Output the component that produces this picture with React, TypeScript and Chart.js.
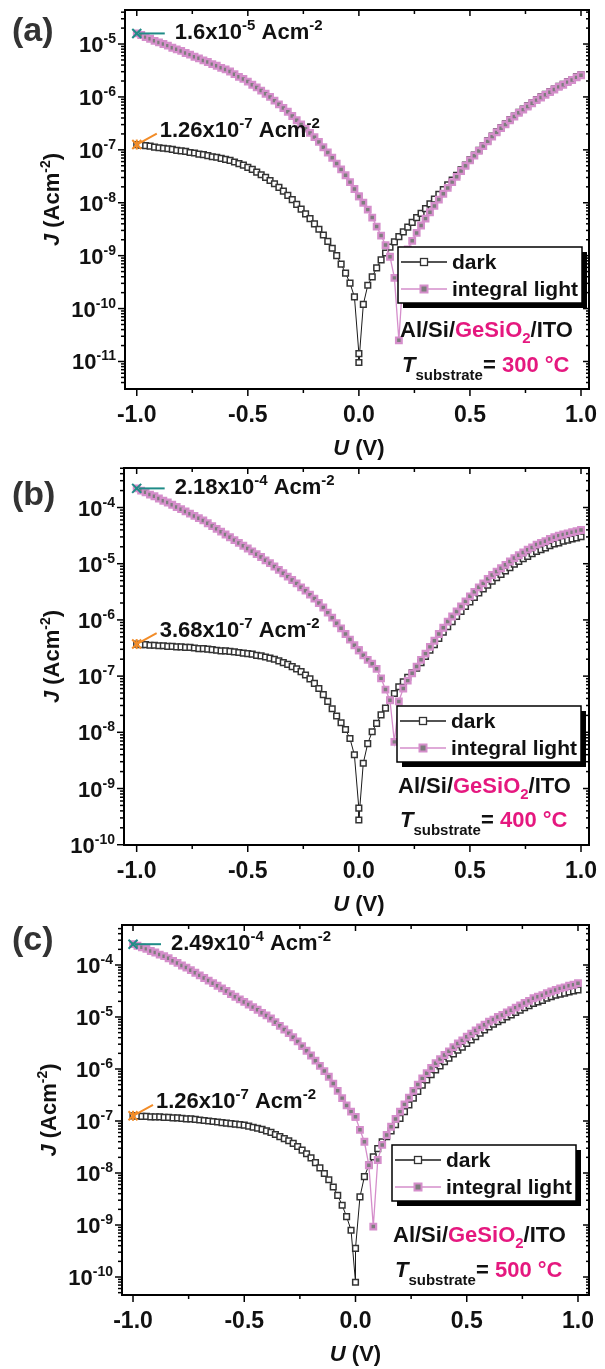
import React, { useEffect, useRef } from "react";
import { Chart, registerables } from "chart.js";
Chart.register(...registerables);

const W = 605;
const H = 1369;
const FONT = '"Liberation Sans", Arial, Helvetica, sans-serif';

// Bias voltage U (V); the sweep contains 0 V twice
const U = [-1,-0.98,-0.96,-0.94,-0.92,-0.9,-0.88,-0.86,-0.84,-0.82,-0.8,-0.78,-0.76,-0.74,-0.72,-0.7,-0.68,-0.66,-0.64,-0.62,-0.6,-0.58,-0.56,-0.54,-0.52,-0.5,-0.48,-0.46,-0.44,-0.42,-0.4,-0.38,-0.36,-0.34,-0.32,-0.3,-0.28,-0.26,-0.24,-0.22,-0.2,-0.18,-0.16,-0.14,-0.12,-0.1,-0.08,-0.06,-0.04,-0.02,0,0,0.02,0.04,0.06,0.08,0.1,0.12,0.14,0.16,0.18,0.2,0.22,0.24,0.26,0.28,0.3,0.32,0.34,0.36,0.38,0.4,0.42,0.44,0.46,0.48,0.5,0.52,0.54,0.56,0.58,0.6,0.62,0.64,0.66,0.68,0.7,0.72,0.74,0.76,0.78,0.8,0.82,0.84,0.86,0.88,0.9,0.92,0.94,0.96,0.98,1];

// log10 of J (A cm^-2)
const lightA = [
  -4.80,-4.83,-4.87,-4.90,-4.94,-4.97,-5.00,-5.03,-5.07,-5.10,
  -5.13,-5.17,-5.20,-5.24,-5.27,-5.31,-5.34,-5.38,-5.41,-5.45,
  -5.48,-5.52,-5.57,-5.62,-5.66,-5.71,-5.77,-5.82,-5.88,-5.94,
  -6.00,-6.07,-6.14,-6.21,-6.28,-6.36,-6.44,-6.52,-6.60,-6.68,
  -6.76,-6.85,-6.95,-7.05,-7.15,-7.26,-7.37,-7.48,-7.61,-7.74,
  -7.88,-7.88,
  -8.00,-8.13,-8.28,-8.45,-8.62,-8.80,-9.02,-9.42,-10.60,-9.30,
  -8.88,-8.72,-8.57,-8.43,-8.30,-8.18,-8.06,-7.94,-7.83,-7.72,
  -7.61,-7.51,-7.40,-7.30,-7.20,-7.11,-7.02,-6.93,-6.84,-6.75,
  -6.67,-6.59,-6.52,-6.44,-6.37,-6.30,-6.24,-6.18,-6.12,-6.06,
  -6.01,-5.96,-5.91,-5.86,-5.81,-5.77,-5.72,-5.68,-5.63,-5.59,
];
const darkA = [
  -6.90,-6.91,-6.92,-6.93,-6.95,-6.96,-6.97,-6.98,-6.99,-7.01,
  -7.02,-7.03,-7.05,-7.06,-7.08,-7.09,-7.11,-7.13,-7.14,-7.16,
  -7.18,-7.20,-7.23,-7.26,-7.29,-7.33,-7.37,-7.42,-7.47,-7.52,
  -7.58,-7.64,-7.71,-7.78,-7.86,-7.94,-8.03,-8.12,-8.21,-8.30,
  -8.40,-8.50,-8.61,-8.73,-8.86,-9.00,-9.16,-9.33,-9.52,-9.78,
  -10.85,-11.02,
  -9.92,-9.56,-9.40,-9.23,-9.08,-8.95,-8.84,-8.74,-8.64,-8.55,
  -8.46,-8.37,-8.28,-8.20,-8.11,-8.02,-7.93,-7.84,-7.75,-7.66,
  -7.57,-7.48,-7.38,-7.29,-7.19,-7.10,-7.01,-6.92,-6.83,-6.74,
  -6.66,-6.58,-6.51,-6.43,-6.36,-6.29,-6.23,-6.17,-6.11,-6.05,
  -6.00,-5.95,-5.90,-5.85,-5.80,-5.76,-5.71,-5.67,-5.62,-5.58,
];
const lightB = [
  -3.66,-3.70,-3.73,-3.77,-3.80,-3.84,-3.88,-3.91,-3.95,-3.99,
  -4.03,-4.07,-4.11,-4.15,-4.19,-4.23,-4.28,-4.33,-4.38,-4.43,
  -4.48,-4.53,-4.58,-4.63,-4.68,-4.73,-4.78,-4.83,-4.88,-4.94,
  -4.99,-5.05,-5.11,-5.17,-5.23,-5.29,-5.35,-5.42,-5.48,-5.55,
  -5.62,-5.70,-5.78,-5.87,-5.96,-6.06,-6.15,-6.25,-6.35,-6.45,
  -6.54,-6.54,
  -6.63,-6.71,-6.78,-6.87,-7.04,-7.24,-7.43,-8.17,-7.45,-7.22,
  -7.08,-6.95,-6.83,-6.71,-6.60,-6.48,-6.37,-6.25,-6.14,-6.03,
  -5.94,-5.85,-5.76,-5.67,-5.58,-5.50,-5.42,-5.35,-5.27,-5.20,
  -5.14,-5.08,-5.02,-4.96,-4.90,-4.85,-4.80,-4.75,-4.71,-4.66,
  -4.63,-4.60,-4.56,-4.53,-4.50,-4.48,-4.46,-4.44,-4.42,-4.40,
];
const darkB = [
  -6.43,-6.44,-6.44,-6.45,-6.45,-6.46,-6.46,-6.47,-6.47,-6.48,
  -6.48,-6.49,-6.49,-6.50,-6.51,-6.51,-6.52,-6.53,-6.54,-6.55,
  -6.55,-6.56,-6.57,-6.58,-6.59,-6.60,-6.61,-6.63,-6.64,-6.66,
  -6.68,-6.70,-6.73,-6.76,-6.79,-6.83,-6.87,-6.92,-6.98,-7.05,
  -7.13,-7.22,-7.33,-7.45,-7.58,-7.71,-7.83,-7.95,-8.11,-8.40,
  -9.35,-9.56,
  -8.55,-8.20,-7.99,-7.84,-7.69,-7.57,-7.43,-7.31,-7.19,-7.10,
  -7.02,-6.94,-6.86,-6.76,-6.65,-6.54,-6.44,-6.33,-6.22,-6.12,
  -6.03,-5.94,-5.85,-5.76,-5.68,-5.60,-5.52,-5.45,-5.38,-5.31,
  -5.25,-5.19,-5.13,-5.07,-5.01,-4.96,-4.91,-4.87,-4.82,-4.78,
  -4.75,-4.72,-4.68,-4.65,-4.63,-4.60,-4.58,-4.56,-4.54,-4.52,
];
const lightC = [
  -3.60,-3.63,-3.66,-3.69,-3.73,-3.76,-3.80,-3.83,-3.87,-3.92,
  -3.96,-4.01,-4.05,-4.10,-4.15,-4.20,-4.25,-4.30,-4.35,-4.40,
  -4.45,-4.50,-4.56,-4.61,-4.66,-4.71,-4.76,-4.81,-4.86,-4.92,
  -4.97,-5.03,-5.10,-5.17,-5.24,-5.31,-5.39,-5.47,-5.56,-5.65,
  -5.74,-5.84,-5.94,-6.04,-6.15,-6.28,-6.42,-6.56,-6.70,-6.82,
  -6.92,-6.92,
  -7.17,-7.40,-7.85,-9.03,-7.75,-7.46,-7.27,-7.11,-6.96,-6.82,
  -6.68,-6.55,-6.42,-6.30,-6.18,-6.08,-5.98,-5.89,-5.81,-5.73,
  -5.66,-5.58,-5.51,-5.45,-5.38,-5.32,-5.26,-5.20,-5.15,-5.09,
  -5.05,-5.00,-4.96,-4.91,-4.87,-4.82,-4.78,-4.73,-4.69,-4.64,
  -4.61,-4.58,-4.54,-4.51,-4.48,-4.45,-4.43,-4.40,-4.38,-4.35,
];
const darkC = [
  -6.90,-6.90,-6.91,-6.91,-6.92,-6.92,-6.92,-6.93,-6.93,-6.94,
  -6.94,-6.95,-6.96,-6.96,-6.97,-6.98,-6.99,-7.00,-7.01,-7.02,
  -7.03,-7.04,-7.05,-7.06,-7.07,-7.08,-7.10,-7.12,-7.14,-7.16,
  -7.19,-7.22,-7.26,-7.30,-7.34,-7.38,-7.43,-7.49,-7.56,-7.63,
  -7.71,-7.80,-7.90,-8.01,-8.13,-8.27,-8.43,-8.62,-8.84,-9.10,
  -10.10,-9.45,
  -8.46,-8.07,-7.85,-7.69,-7.53,-7.40,-7.30,-7.19,-7.07,-6.95,
  -6.82,-6.69,-6.56,-6.43,-6.31,-6.21,-6.11,-6.02,-5.94,-5.86,
  -5.79,-5.71,-5.64,-5.58,-5.51,-5.44,-5.38,-5.31,-5.25,-5.19,
  -5.14,-5.09,-5.05,-5.00,-4.96,-4.91,-4.87,-4.82,-4.78,-4.74,
  -4.71,-4.68,-4.64,-4.61,-4.58,-4.56,-4.54,-4.52,-4.50,-4.48,
];

const X_TICKS = [-1, -0.5, 0, 0.5, 1];
const X_TICK_LABELS = ["-1.0", "-0.5", "0.0", "0.5", "1.0"];
const X_MINOR = [-0.75, -0.25, 0.25, 0.75];
const SERIES_NAMES = ["dark", "integral light"];
const PANEL_LABELS = ["(a)", "(b)", "(c)"];
const TEMPS = ["300", "400", "500"];
const LIGHT_NOTE = [["1.6", "-5"], ["2.18", "-4"], ["2.49", "-4"]];
const DARK_NOTE = [["1.26", "-7"], ["3.68", "-7"], ["1.26", "-7"]];

const SERIES = [
  { dark: darkA, light: lightA },
  { dark: darkB, light: lightB },
  { dark: darkC, light: lightC },
];

// page-pixel layout of each panel
const LAYOUT = [
  { l: 125, r: 589, t: 10, b: 389, x: [-1.053, 1.036], yExp: [-11.52, -4.357], labelY: 41, legend: [398, 247], note: [400, 337, 372], yTitleX: 59 },
  { l: 124, r: 589, t: 468, b: 845, x: [-1.057, 1.036], yExp: [-10.005, -3.297], labelY: 505, legend: [397, 706], note: [398, 793, 827], yTitleX: 59 },
  { l: 122, r: 589, t: 925, b: 1295, x: [-1.0495, 1.0495], yExp: [-10.346, -3.231], labelY: 950, legend: [392, 1145], note: [393, 1242, 1277], yTitleX: 56 },
];

const PINK = "#d58ecb";
const GRAY = "#7d7d7d";
const DARKC = "#333333";
const MAG = "#e5187f";
const TEAL = "#1f8c87";
const ORANGE = "#f28c28";
const TXT = "#111111";

type Part = { t: string; size?: number; italic?: boolean; dy?: number; color?: string };

function fontOf(p: Part) {
  return `${p.italic ? "italic " : ""}bold ${p.size ?? 22}px ${FONT}`;
}

function drawRich(ctx: CanvasRenderingContext2D, parts: Part[], x: number, y: number, align: string, color = TXT) {
  let w = 0;
  for (const p of parts) {
    ctx.font = fontOf(p);
    w += ctx.measureText(p.t).width;
  }
  let cx = align === "left" ? x : align === "center" ? x - w / 2 : x - w;
  ctx.textAlign = "left";
  ctx.textBaseline = "alphabetic";
  for (const p of parts) {
    ctx.font = fontOf(p);
    ctx.fillStyle = p.color ?? color;
    ctx.fillText(p.t, cx, y + (p.dy ?? 0));
    cx += ctx.measureText(p.t).width;
  }
}

function makeDecor(idx: number) {
  return {
    id: "decor" + idx,
    afterDraw(chart: any) {
      const ctx: CanvasRenderingContext2D = chart.ctx;
      const L = LAYOUT[idx];
      const S = SERIES[idx];
      const { left, right, top, bottom } = chart.chartArea;
      const xs = chart.scales.x;
      const ys = chart.scales.y;
      ctx.save();

      const line = (x1: number, y1: number, x2: number, y2: number) => {
        ctx.beginPath();
        ctx.moveTo(x1, y1);
        ctx.lineTo(x2, y2);
        ctx.stroke();
      };

      // annotations at U = -1
      const px0 = xs.getPixelForValue(U[0]);
      const pyL = ys.getPixelForValue(Math.pow(10, S.light[0]));
      const pyD = ys.getPixelForValue(Math.pow(10, S.dark[0]));
      ctx.lineWidth = 2;
      ctx.strokeStyle = TEAL;
      line(px0 - 4.5, pyL - 4.5, px0 + 4.5, pyL + 4.5);
      line(px0 - 4.5, pyL + 4.5, px0 + 4.5, pyL - 4.5);
      line(px0 + 2, pyL, px0 + 28, pyL);
      ctx.strokeStyle = ORANGE;
      line(px0 - 4.5, pyD - 4.5, px0 + 4.5, pyD + 4.5);
      line(px0 - 4.5, pyD + 4.5, px0 + 4.5, pyD - 4.5);
      line(px0, pyD - 5, px0, pyD + 5);
      line(px0, pyD, px0 + 20, pyD - 11);
      drawRich(ctx, [
        { t: LIGHT_NOTE[idx][0] + "x10" },
        { t: LIGHT_NOTE[idx][1], size: 15, dy: -9 },
        { t: " Acm" },
        { t: "-2", size: 15, dy: -9 },
      ], px0 + 38, pyL + 6, "left");
      drawRich(ctx, [
        { t: DARK_NOTE[idx][0] + "x10" },
        { t: DARK_NOTE[idx][1], size: 15, dy: -9 },
        { t: " Acm" },
        { t: "-2", size: 15, dy: -9 },
      ], px0 + 23, pyD - 7.5, "left");

      // legend box with drop shadow
      const [bx, by] = L.legend;
      const bw = 184, bh = 56;
      ctx.fillStyle = "#000";
      ctx.fillRect(bx + 5, by + 5, bw, bh);
      ctx.fillStyle = "#fff";
      ctx.fillRect(bx, by, bw, bh);
      ctx.lineWidth = 1.5;
      ctx.strokeStyle = "#000";
      ctx.strokeRect(bx, by, bw, bh);
      const rows = [
        { y: by + 15, lc: "#1a1a1a", mb: DARKC, mf: "#fff" },
        { y: by + 42, lc: PINK, mb: PINK, mf: GRAY },
      ];
      rows.forEach((r, i) => {
        ctx.strokeStyle = r.lc;
        ctx.lineWidth = 1.3;
        line(bx + 3, r.y, bx + 49, r.y);
        ctx.fillStyle = r.mf;
        ctx.fillRect(bx + 22.5, r.y - 3.5, 7, 7);
        ctx.strokeStyle = r.mb;
        ctx.lineWidth = i === 0 ? 1.3 : 2;
        ctx.strokeRect(bx + 22.5, r.y - 3.5, 7, 7);
        drawRich(ctx, [{ t: SERIES_NAMES[i], size: 21 }], bx + 54, r.y + 7, "left");
      });

      // device / temperature notes
      const [nx, ny1, ny2] = L.note;
      drawRich(ctx, [
        { t: "Al/Si/" },
        { t: "GeSiO", color: MAG },
        { t: "2", size: 15, dy: 6, color: MAG },
        { t: "/ITO" },
      ], nx, ny1, "left");
      drawRich(ctx, [
        { t: "T", italic: true },
        { t: "substrate", size: 15, dy: 8 },
        { t: "= " },
        { t: TEMPS[idx] + " \u00b0C", color: MAG },
      ], nx + 2, ny2, "left");

      // ticks
      ctx.strokeStyle = "#000";
      ctx.lineWidth = 1.5;
      for (const v of X_TICKS) {
        const px = xs.getPixelForValue(v);
        line(px, bottom, px, bottom + 7);
        line(px, top, px, top + 6);
      }
      for (const v of X_MINOR) {
        const px = xs.getPixelForValue(v);
        line(px, bottom, px, bottom + 4);
        line(px, top, px, top + 4);
      }
      const e0 = Math.floor(L.yExp[0]);
      const e1 = Math.ceil(L.yExp[1]);
      for (let e = e0; e <= e1; e++) {
        for (let m = 1; m <= 9; m++) {
          const v = m * Math.pow(10, e);
          if (v < ys.min || v > ys.max) continue;
          const py = ys.getPixelForValue(v);
          const major = m === 1;
          line(left - (major ? 7 : 4), py, left, py);
          line(right - (major ? 6 : 3), py, right, py);
        }
      }
      ctx.lineWidth = 2;
      ctx.strokeRect(left, top, right - left, bottom - top);

      // tick labels
      for (let e = Math.ceil(L.yExp[0]); e <= Math.floor(L.yExp[1]); e++) {
        const py = ys.getPixelForValue(Math.pow(10, e));
        drawRich(ctx, [{ t: "10", size: 22 }, { t: String(e), size: 14, dy: -9 }], left - 9, py + 8, "right");
      }
      X_TICKS.forEach((v, i) => {
        drawRich(ctx, [{ t: X_TICK_LABELS[i], size: 23 }], xs.getPixelForValue(v), bottom + 33, "center");
      });

      // axis titles
      drawRich(ctx, [{ t: "U", italic: true }, { t: " (V)" }], xs.getPixelForValue(0), bottom + 66, "center");
      ctx.save();
      ctx.translate(L.yTitleX, (top + bottom) / 2);
      ctx.rotate(-Math.PI / 2);
      drawRich(ctx, [{ t: "J", italic: true }, { t: " (Acm" }, { t: "-2", size: 14, dy: -9 }, { t: ")" }], 0, 0, "center");
      ctx.restore();

      // panel label
      drawRich(ctx, [{ t: PANEL_LABELS[idx], size: 34 }], 12, L.labelY, "left", "#333");

      ctx.restore();
    },
  };
}

function Panel({ idx }: { idx: number }) {
  const ref = useRef<HTMLCanvasElement>(null);
  useEffect(() => {
    const L = LAYOUT[idx];
    const S = SERIES[idx];
    const chart = new Chart(ref.current as HTMLCanvasElement, {
      type: "line",
      data: {
        datasets: [
          {
            label: SERIES_NAMES[0],
            data: U.map((u, i) => ({ x: u, y: Math.pow(10, S.dark[i]) })),
            borderColor: "#1a1a1a",
            borderWidth: 1,
            pointStyle: "rect",
            pointRadius: 4,
            pointBorderColor: DARKC,
            pointBackgroundColor: "#ffffff",
            pointBorderWidth: 1.5,
            tension: 0,
            order: 1,
          },
          {
            label: SERIES_NAMES[1],
            data: U.map((u, i) => ({ x: u, y: Math.pow(10, S.light[i]) })),
            borderColor: PINK,
            borderWidth: 1.3,
            pointStyle: "rect",
            pointRadius: 4,
            pointBorderColor: PINK,
            pointBackgroundColor: GRAY,
            pointBorderWidth: 2.2,
            tension: 0,
            order: 0,
          },
        ],
      } as any,
      options: {
        responsive: false,
        animation: false,
        events: [],
        layout: { padding: { left: L.l, top: L.t, right: W - L.r, bottom: H - L.b } },
        scales: {
          x: { type: "linear", min: L.x[0], max: L.x[1], display: false },
          y: { type: "logarithmic", min: Math.pow(10, L.yExp[0]), max: Math.pow(10, L.yExp[1]), display: false },
        },
        plugins: { legend: { display: false }, tooltip: { enabled: false } },
      } as any,
      plugins: [makeDecor(idx)],
    });
    return () => chart.destroy();
  }, [idx]);
  return (
    <canvas
      ref={ref}
      width={W}
      height={H}
      style={{ position: "absolute", left: 0, top: 0, width: W, height: H }}
    />
  );
}

export default function App() {
  return (
    <div style={{ position: "absolute", left: 0, top: 0, width: W, height: H, background: "#fff" }}>
      {[0, 1, 2].map((i) => (
        <Panel key={i} idx={i} />
      ))}
    </div>
  );
}
